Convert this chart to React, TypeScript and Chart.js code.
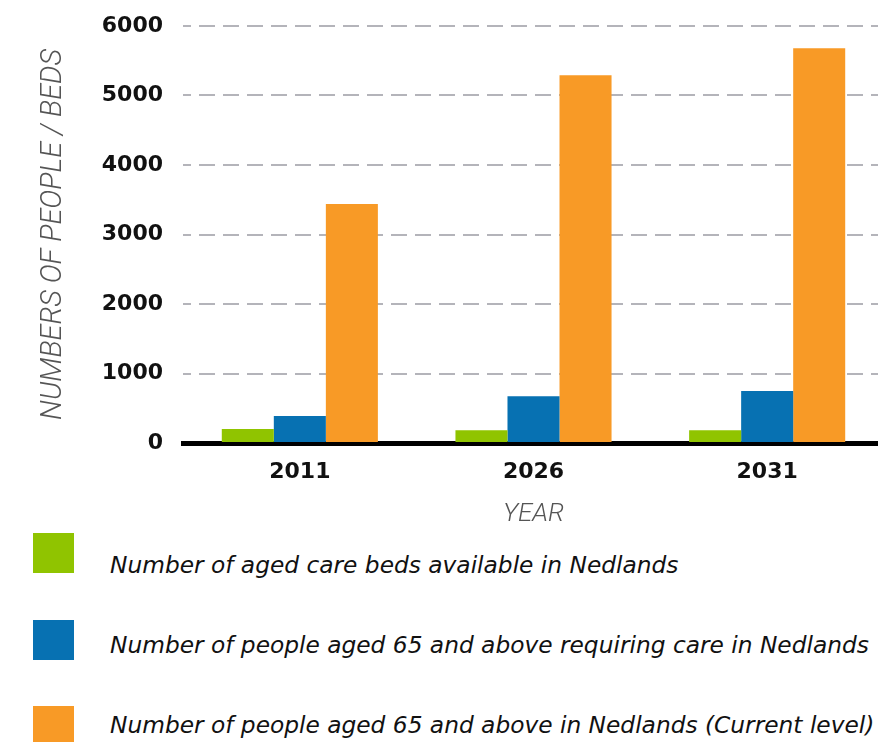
import React, { useEffect, useRef } from "react";
import { Chart, registerables } from "chart.js";

Chart.register(...registerables);

const YEARS = ["2011", "2026", "2031"];
const AGED_CARE_BEDS = [200, 185, 185];
const REQUIRING_CARE = [390, 673, 748];
const AGED_65_PLUS = [3440, 5290, 5680];
const SERIES_LABELS = [
  "Number of aged care beds available in Nedlands",
  "Number of people aged 65 and above requiring care in Nedlands",
  "Number of people aged 65 and above in Nedlands (Current level)",
];
const SERIES_COLORS = ["#90c400", "#0771b2", "#f89a26"];
const Y_MIN = 0;
const Y_MAX = 6000;
const Y_STEP = 1000;
const Y_TITLE = "NUMBERS OF PEOPLE / BEDS";
const X_TITLE = "YEAR";

const TICK_FONT = "'DejaVu Sans', 'Open Sans', sans-serif";
const TITLE_FONT = "Roboto, 'Open Sans', sans-serif";
const LEGEND_FONT = "'DejaVu Sans', 'Open Sans', sans-serif";

export default function App() {
  const canvasRef = useRef<HTMLCanvasElement | null>(null);

  useEffect(() => {
    if (!canvasRef.current) return;
    const seriesValues = [AGED_CARE_BEDS, REQUIRING_CARE, AGED_65_PLUS];
    const chart = new Chart(canvasRef.current, {
      type: "bar",
      data: {
        labels: YEARS,
        datasets: seriesValues.map((vals, i) => ({
          label: SERIES_LABELS[i],
          data: vals,
          backgroundColor: SERIES_COLORS[i],
          borderWidth: 0,
          categoryPercentage: 0.668,
          barPercentage: 1.0,
        })),
      },
      options: {
        animation: false,
        responsive: true,
        maintainAspectRatio: false,
        layout: { padding: { top: 26, right: 6, left: 0, bottom: 0 } },
        plugins: {
          legend: { display: false },
          tooltip: { enabled: false },
        },
        scales: {
          x: {
            grid: { display: false, drawTicks: false },
            border: { display: true, color: "#000000", width: 5 },
            ticks: {
              color: "#111111",
              padding: 16,
              font: { family: TICK_FONT, size: 22, weight: "bold" },
            },
            title: {
              display: true,
              text: X_TITLE,
              color: "#555555",
              padding: { top: 0, bottom: 0 },
              font: { family: TITLE_FONT, size: 26, style: "italic", weight: "300" },
            },
            afterFit: (scale: any) => {
              scale.height = 87;
              scale.paddingLeft = 0;
              scale.paddingRight = 0;
            },
          },
          y: {
            min: Y_MIN,
            max: Y_MAX,
            ticks: {
              stepSize: Y_STEP,
              color: "#111111",
              padding: 20,
              font: { family: TICK_FONT, size: 22, weight: "bold" },
              callback: (value: any) => String(value),
            },
            grid: {
              drawTicks: false,
              lineWidth: 2,
              color: (ctx: any) => (ctx.tick && ctx.tick.value === 0 ? "rgba(0,0,0,0)" : "#b4b4ba"),
            },
            border: { display: false, dash: [16, 8], dashOffset: 8 },
            title: {
              display: true,
              text: Y_TITLE,
              color: "#555555",
              padding: { top: 37, bottom: 0 },
              font: { family: TITLE_FONT, size: 28.8, style: "italic", weight: "300" },
            },
            afterFit: (scale: any) => {
              scale.width = 183;
              scale.paddingTop = 0;
              scale.paddingBottom = 0;
            },
          },
        },
      },
    });
    return () => chart.destroy();
  }, []);

  return (
    <div
      style={{
        position: "fixed",
        left: 0,
        top: 0,
        width: 878,
        height: 742,
        overflow: "hidden",
        background: "#ffffff",
      }}
    >
      <div style={{ position: "absolute", left: 0, top: 0, width: 890, height: 530 }}>
        <canvas ref={canvasRef} />
      </div>
      {SERIES_LABELS.map((label, i) => (
        <React.Fragment key={label}>
          <div
            style={{
              position: "absolute",
              left: 33,
              top: 533 + i * 86.5,
              width: 41,
              height: 40,
              background: SERIES_COLORS[i],
            }}
          />
          <div
            style={{
              position: "absolute",
              left: 110,
              top: 574 + i * 80 - 26,
              height: 33,
              lineHeight: "33px",
              whiteSpace: "nowrap",
              fontFamily: LEGEND_FONT,
              fontStyle: "italic",
              fontSize: 23.3,
              color: "#111111",
            }}
          >
            {label}
          </div>
        </React.Fragment>
      ))}
    </div>
  );
}
